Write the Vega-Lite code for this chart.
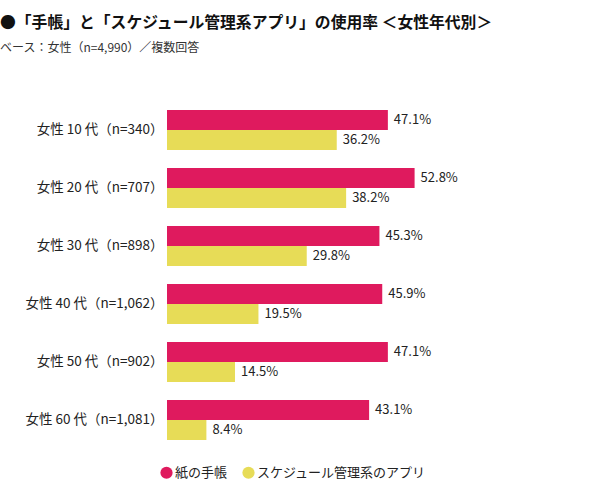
{
  "$schema": "https://vega.github.io/schema/vega-lite/v6.json",
  "width": 400,
  "height": 348,
  "autosize": {"type": "none"},
  "padding": {"left": 167, "top": 101, "right": 33, "bottom": 51},
  "background": "white",
  "title": {
    "text": "●「手帳」と「スケジュール管理系アプリ」の使用率 ＜女性年代別＞",
    "subtitle": "ベース：女性（n=4,990）／複数回答",
    "anchor": "start",
    "frame": "group",
    "dx": -167,
    "offset": 46,
    "font": "Noto Sans CJK JP",
    "fontSize": 15.8,
    "fontWeight": "bold",
    "color": "#111111",
    "subtitleFont": "Noto Sans CJK JP",
    "subtitleFontSize": 12,
    "subtitleColor": "#333333",
    "subtitlePadding": 11
  },
  "data": {
    "values": [
      {"age": "女性 10 代（n=340）", "type": "紙の手帳", "value": 47.1},
      {"age": "女性 10 代（n=340）", "type": "スケジュール管理系のアプリ", "value": 36.2},
      {"age": "女性 20 代（n=707）", "type": "紙の手帳", "value": 52.8},
      {"age": "女性 20 代（n=707）", "type": "スケジュール管理系のアプリ", "value": 38.2},
      {"age": "女性 30 代（n=898）", "type": "紙の手帳", "value": 45.3},
      {"age": "女性 30 代（n=898）", "type": "スケジュール管理系のアプリ", "value": 29.8},
      {"age": "女性 40 代（n=1,062）", "type": "紙の手帳", "value": 45.9},
      {"age": "女性 40 代（n=1,062）", "type": "スケジュール管理系のアプリ", "value": 19.5},
      {"age": "女性 50 代（n=902）", "type": "紙の手帳", "value": 47.1},
      {"age": "女性 50 代（n=902）", "type": "スケジュール管理系のアプリ", "value": 14.5},
      {"age": "女性 60 代（n=1,081）", "type": "紙の手帳", "value": 43.1},
      {"age": "女性 60 代（n=1,081）", "type": "スケジュール管理系のアプリ", "value": 8.4}
    ]
  },
  "transform": [{"calculate": "format(datum.value, '.1f') + '%'", "as": "label"}],
  "encoding": {
    "y": {
      "field": "age",
      "type": "nominal",
      "sort": null,
      "scale": {"paddingInner": 0.31, "paddingOuter": 0.155},
      "axis": {
        "title": null,
        "domain": false,
        "ticks": false,
        "labelPadding": 4,
        "labelFont": "Noto Sans CJK JP",
        "labelFontSize": 13.5,
        "labelColor": "#222222",
        "labelLimit": 200
      }
    },
    "yOffset": {"field": "type", "type": "nominal", "sort": ["紙の手帳", "スケジュール管理系のアプリ"], "scale": {"paddingInner": 0, "paddingOuter": 0}},
    "x": {
      "field": "value",
      "type": "quantitative",
      "scale": {"domain": [0, 85.3]},
      "axis": null
    }
  },
  "layer": [
    {
      "mark": {"type": "bar"},
      "encoding": {
        "color": {
          "field": "type",
          "type": "nominal",
          "sort": ["紙の手帳", "スケジュール管理系のアプリ"],
          "scale": {"domain": ["紙の手帳", "スケジュール管理系のアプリ"], "range": ["#DF1A5E", "#E7DC57"]},
          "legend": {
            "title": null,
            "orient": "none",
            "direction": "horizontal",
            "legendX": -7,
            "legendY": 365,
            "symbolType": "circle",
            "symbolSize": 150,
            "symbolStrokeWidth": 0,
            "labelFont": "Noto Sans CJK JP",
            "labelFontSize": 13,
            "labelColor": "#222222",
            "labelOffset": 2,
            "columnPadding": 14,
            "labelLimit": 300
          }
        }
      }
    },
    {
      "mark": {"type": "text", "align": "left", "baseline": "middle", "dx": 6, "font": "Noto Sans CJK JP", "fontSize": 13, "color": "#222222"},
      "encoding": {"text": {"field": "label"}}
    }
  ],
  "config": {"view": {"stroke": null}}
}
